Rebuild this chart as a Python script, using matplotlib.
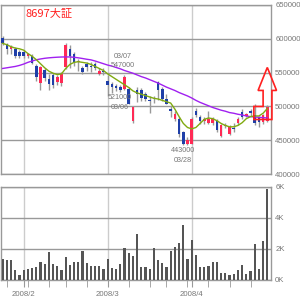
import matplotlib
matplotlib.use("Agg")
import matplotlib.pyplot as plt
from matplotlib.patches import Polygon
import numpy as np

# daily prices (yen), 2008/01/25 .. 2008/04/25
opens = [601000, 592000, 585000, 585000, 581000, 581000, 574000, 575000, 560000, 534000,
         554000, 541000, 546000, 536000, 534000, 558000, 585000, 578000, 566000, 557000,
         563000, 560000, 562000, 548000, 552000, 538000, 533000, 530000, 528000, 526000,
         526000, 479000, 525000, 525000, 518000, 510000, 513000, 536000, 526000, 511000,
         496000, 482000, 481000, 462000, 445000, 445000, 494000, 484000, 479000, 475000,
         475000, 479000, 457000, 471000, 460000, 468000, 475000, 492000, 486000, 493000,
         487000, 484000, 477000, 479000]
highs = [604000, 594000, 590000, 587000, 583000, 583000, 579000, 577000, 562000, 560000,
         557000, 548000, 550000, 546000, 551000, 594000, 590000, 581000, 570000, 560000,
         566000, 565000, 566000, 556000, 557000, 546000, 536000, 533000, 531000, 547000,
         528000, 500000, 528000, 527000, 521000, 515000, 516000, 537000, 529000, 518000,
         501000, 494000, 484000, 464000, 455000, 484000, 497000, 487000, 485000, 494000,
         485000, 482000, 474000, 476000, 472000, 475000, 484000, 496000, 491000, 496000,
         504000, 486000, 489000, 502000]
lows = [590000, 578000, 577000, 571000, 572000, 572000, 572000, 562000, 538000, 524000,
        537000, 524000, 527000, 531000, 530000, 555000, 556000, 560000, 553000, 548000,
        553000, 551000, 554000, 546000, 546000, 516000, 520000, 523000, 521000, 524000,
        503000, 475000, 506000, 508000, 508000, 490000, 505000, 509000, 508000, 503000,
        484000, 479000, 455000, 443000, 443000, 444000, 484000, 474000, 474000, 474000,
        472000, 462000, 455000, 468000, 458000, 463000, 473000, 482000, 484000, 486000,
        472000, 470000, 474000, 477000]
closes = [594000, 585000, 588000, 574000, 575000, 574000, 577000, 564000, 543000, 558000,
          542000, 533000, 531000, 543000, 548000, 591000, 575000, 565000, 567000, 551000,
          558000, 558000, 557000, 553000, 551000, 531000, 528000, 527000, 524000, 543000,
          504000, 499000, 519000, 513000, 511000, 508000, 512000, 524000, 511000, 504000,
          493000, 489000, 460000, 445000, 451000, 482000, 487000, 478000, 482000, 482000,
          482000, 466000, 472000, 472000, 470000, 467000, 482000, 485000, 489000, 490000,
          475000, 477000, 487000, 499000]
volumes = [1370, 1260, 1300, 650, 350, 650, 720, 780, 850, 1170,
           1040, 1830, 1040, 870, 650, 1500, 980, 1170, 1170, 1890,
           1110, 910, 910, 910, 720, 1370, 780, 720, 1040, 2090,
           1760, 1570, 2970, 848, 848, 717, 2087, 1304, 1109, 848,
           1891, 2152, 2348, 3548, 1370, 2543, 1630, 848, 848, 913,
           1174, 1174, 457, 457, 326, 391, 652, 978, 391, 587,
           2283, 717, 2478, 5850]
ma_short = [593000, 591000, 588000, 586000, 585000, 583000, 578000, 574000, 569000, 563000,
            557000, 552000, 549000, 547000, 548000, 556000, 562000, 565000, 566000, 565000,
            564000, 562000, 559000, 556000, 553000, 548000, 544000, 540000, 536000, 532000,
            528000, 523000, 520000, 518000, 516000, 514000, 512000, 511000, 509000, 507000,
            505000, 496000, 485000, 475000, 469000, 467000, 469000, 475000, 481000, 483000,
            482000, 479000, 475000, 472000, 470000, 470000, 472000, 476000, 482000, 485000,
            486000, 486000, 490000, 497000]
ma_long = [556000, 557000, 558000, 559000, 560500, 562500, 565000, 567000, 568800, 570000,
           571000, 571700, 572200, 572600, 572900, 573000, 573000, 572500, 571700, 570700,
           569600, 568700, 567000, 565000, 563000, 561000, 559500, 557500, 555500, 553000,
           551000, 549000, 546500, 544000, 542000, 539500, 537000, 534500, 531500, 528500,
           526000, 523500, 520500, 518000, 515500, 512500, 509000, 506000, 503500, 501000,
           498500, 496500, 494500, 493000, 491000, 490000, 488500, 487500, 486000, 485000,
           484500, 484000, 483500, 483000]

month_idx = [5, 25, 45]
month_labels = ["2008/2", "2008/3", "2008/4"]
week_idx = [1, 6, 11, 15, 20, 25, 30, 35, 39, 44, 49, 54, 59]
price_ticks = [400000, 450000, 500000, 550000, 600000, 650000]
vol_ticks = [0, 2000, 4000, 6000]
vol_labels = ["0K", "2K", "4K", "6K"]
notes = [(28.7, 573500, "03/07"), (28.7, 560500, "547000"),
         (27.8, 513500, "521000"), (27.8, 498500, "03/06"),
         (43.0, 434500, "443000"), (43.0, 420000, "03/28")]

txtfont = ["Liberation Sans Narrow", "Liberation Sans"]
grey_txt = "#777777"

x = np.arange(len(closes))
o = np.array(opens); c = np.array(closes)
up = c >= o
col = np.where(up, "#ff2a55", "#1f3fa8")

fig = plt.figure(figsize=(3, 3), dpi=100)
ax = fig.add_axes([0.5/300, 1-174.3/300, 270.5/300, 169.6/300])
axv = fig.add_axes([0.5/300, 1-280/300, 270.5/300, 93.3/300])

for a in (ax, axv):
    a.set_xlim(-0.52, 63.88)
    for m in month_idx:
        a.axvline(m, color="#cccccc", lw=1, zorder=0)
    for s in a.spines.values():
        s.set_color("#999999")
        s.set_linewidth(1)
    a.yaxis.tick_right()
    a.tick_params(axis="y", length=0, pad=3, labelsize=5.6, labelcolor=grey_txt)
    a.grid(axis="y", color="#999999", lw=1)
    a.set_axisbelow(True)

# price panel
ax.set_ylim(400000, 650000)
ax.set_yticks(price_ticks)
ax.set_yticklabels([str(p) for p in price_ticks], family=txtfont)
ax.set_xticks([])
ax.vlines(x, lows, highs, color="#999999", lw=1, zorder=2)
ax.bar(x, np.maximum(np.abs(c - o), 1200), bottom=np.minimum(o, c), width=0.6,
       color=col, zorder=3)
ax.plot(x, ma_long, color="#a020f0", lw=1, zorder=4)
ax.plot(x, ma_short, color="#80aa10", lw=1, zorder=4)
for nx, ny, t in notes:
    ax.text(nx, ny, t, ha="center", va="center", fontsize=5.2, family=txtfont,
            color=grey_txt, zorder=5)

# up arrow drawn over the last few sessions
n = len(closes) - 1
arrow = [(n - 3.2, 480800), (n + 1.1, 480800), (n + 1.1, 523600), (n + 2.2, 523600),
         (n, 557500), (n - 2.2, 523600), (n - 1.0, 523600), (n - 1.0, 500000), (n - 3.2, 500000)]
ax.add_patch(Polygon(arrow, closed=True, fill=False, edgecolor="#ff2020", lw=1.2,
                     clip_on=False, zorder=6))

fig.text(25/300, 1-14/300, "8697大証", color="#ff2020", fontsize=8,
         family=["Noto Sans CJK JP", "DejaVu Sans"], va="center")

# volume panel
axv.set_ylim(0, 6000)
axv.set_yticks(vol_ticks)
axv.set_yticklabels(vol_labels, family=txtfont)
axv.bar(x, volumes, width=0.5, color="#555555", zorder=3)
axv.set_xticks(month_idx)
axv.set_xticklabels(month_labels, family=txtfont, fontsize=5.6, color=grey_txt)
axv.set_xticks(week_idx, minor=True)
axv.tick_params(axis="x", which="both", length=5, color="#999999", pad=3)

fig.savefig("out.png", dpi=100)
